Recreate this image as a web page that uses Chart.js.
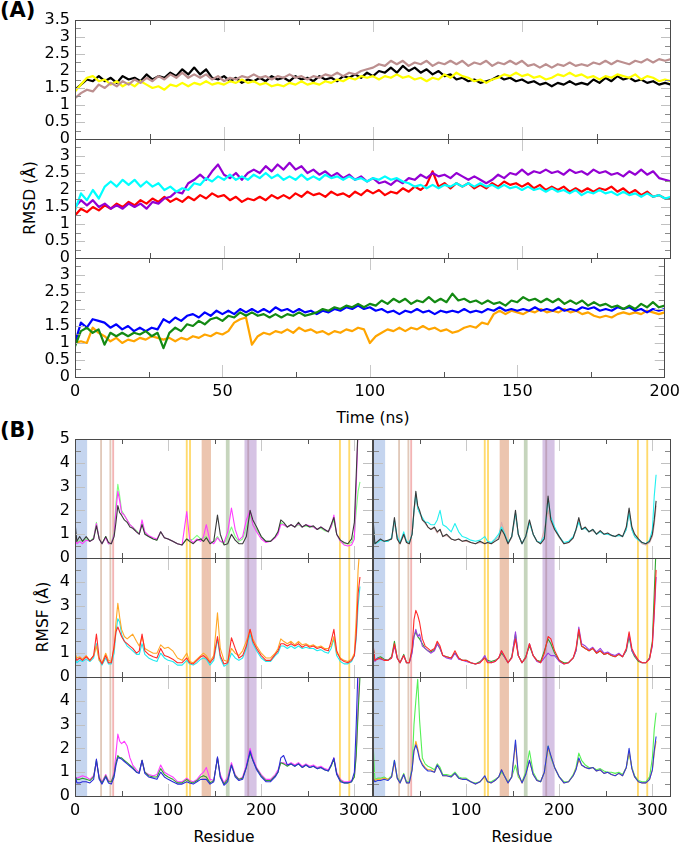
<!DOCTYPE html>
<html><head><meta charset="utf-8">
<script src="https://cdn.jsdelivr.net/npm/chart.js@4.4.1/dist/chart.umd.min.js"></script>
<style>
body{margin:0;background:#fff;}
#wrap{position:relative;width:685px;height:846px;overflow:hidden;font-family:"DejaVu Sans",sans-serif;color:#000;background:#fff;}
canvas{position:absolute;}
.c{position:absolute;white-space:nowrap;font-size:15.5px;transform:translate(-50%,-50%);}
.r{transform:translate(-50%,-50%) rotate(-90deg);}
.p{position:absolute;font-weight:bold;font-size:21px;white-space:nowrap;}
</style></head><body><div id="wrap">
<div class="p" style="left:0;top:-2px">(A)</div>
<div class="p" style="left:0;top:418px">(B)</div>
<div class="c r" style="left:30px;top:198px">RMSD (Å)</div>
<div class="c" style="left:373px;top:418px">Time (ns)</div>
<div class="c r" style="left:43px;top:617px">RMSF (Å)</div>
<div class="c" style="left:224px;top:837px">Residue</div>
<div class="c" style="left:522px;top:837px">Residue</div>
</div>
<script>
// ---------------- Panel A: RMSD (time 0..200 ns, every 2 ns) ----------------
const timeNs = Array.from({length:101}, (_, i) => i * 2);
const rmsdBlack = [1.45,1.6,1.75,1.7,1.85,1.7,1.8,1.65,1.85,1.75, 1.8,1.7,1.9,1.75,1.85,1.8,1.95,1.85,2.05,1.9, 2.1,1.9,2.05,1.8,1.75,1.85,1.7,1.8,1.65,1.75, 1.7,1.8,1.7,1.85,1.75,1.8,1.7,1.85,1.75,1.8, 1.7,1.85,1.75,1.8,1.7,1.85,1.8,1.9,1.8,1.95, 1.85,2.0,1.95,2.1,1.95,2.15,2.0,2.1,1.95,2.05, 1.9,2.0,1.85,1.9,1.75,1.8,1.7,1.75,1.65,1.7, 1.75,1.85,1.75,1.8,1.7,1.75,1.65,1.7,1.6,1.65, 1.55,1.65,1.6,1.7,1.6,1.65,1.6,1.75,1.65,1.8, 1.7,1.85,1.75,1.8,1.7,1.75,1.65,1.7,1.6,1.65, 1.6];
const rmsdYellow = [1.4,1.6,1.8,1.85,1.7,1.75,1.6,1.7,1.55,1.65, 1.55,1.7,1.6,1.5,1.55,1.45,1.6,1.55,1.65,1.55, 1.65,1.6,1.7,1.6,1.65,1.6,1.7,1.65,1.75,1.65, 1.7,1.6,1.65,1.55,1.6,1.55,1.65,1.6,1.7,1.6, 1.65,1.6,1.7,1.65,1.75,1.7,1.8,1.75,1.85,1.8, 1.85,1.75,1.85,1.8,1.9,1.8,1.85,1.75,1.8,1.7, 1.8,1.75,1.9,1.8,1.95,1.85,1.8,1.7,1.75,1.65, 1.75,1.8,1.9,1.85,1.95,1.85,1.9,1.8,1.85,1.75, 1.8,1.9,1.85,1.95,1.85,1.9,1.8,1.85,1.75,1.85, 1.8,1.9,1.85,1.8,1.9,1.75,1.85,1.8,1.7,1.75, 1.7];
const rmsdBrown = [1.2,1.35,1.45,1.4,1.6,1.5,1.65,1.55,1.7,1.6, 1.75,1.65,1.8,1.7,1.85,1.75,1.9,1.8,1.95,1.8, 1.9,1.8,1.9,1.75,1.85,1.7,1.8,1.75,1.85,1.8, 1.9,1.8,1.85,1.75,1.85,1.8,1.9,1.8,1.85,1.75, 1.85,1.8,1.9,1.85,1.95,1.85,1.95,1.9,2.0,2.05, 2.1,2.2,2.15,2.3,2.2,2.3,2.15,2.25,2.2,2.3, 2.15,2.25,2.2,2.3,2.2,2.3,2.15,2.25,2.2,2.3, 2.15,2.25,2.2,2.3,2.2,2.3,2.15,2.2,2.1,2.2, 2.1,2.2,2.15,2.25,2.15,2.2,2.15,2.25,2.2,2.3, 2.2,2.3,2.25,2.2,2.3,2.25,2.35,2.25,2.35,2.3, 2.35];
const rmsdPurple = [1.5,1.7,1.55,1.7,1.5,1.6,1.45,1.55,1.45,1.6, 1.5,1.6,1.45,1.65,1.6,1.75,1.8,1.95,1.9,2.2, 2.3,2.45,2.3,2.55,2.75,2.45,2.35,2.5,2.3,2.5, 2.6,2.5,2.7,2.55,2.75,2.6,2.8,2.6,2.7,2.5, 2.6,2.45,2.55,2.4,2.5,2.35,2.45,2.3,2.4,2.25, 2.35,2.2,2.25,2.15,2.3,2.2,2.35,2.3,2.45,2.35, 2.5,2.4,2.45,2.35,2.5,2.4,2.3,2.4,2.3,2.2, 2.3,2.45,2.35,2.5,2.45,2.6,2.45,2.55,2.5,2.6, 2.5,2.55,2.45,2.6,2.5,2.55,2.45,2.6,2.5,2.55, 2.45,2.5,2.4,2.55,2.45,2.6,2.45,2.55,2.35,2.3, 2.25];
const rmsdCyan = [1.4,1.9,1.7,2.0,1.75,2.1,2.25,2.1,2.3,2.15, 2.3,2.1,2.25,2.1,2.2,2.0,2.1,1.95,2.05,2.0, 2.2,2.15,2.35,2.25,2.4,2.3,2.45,2.3,2.4,2.3, 2.45,2.35,2.5,2.35,2.45,2.3,2.4,2.3,2.45,2.3, 2.4,2.3,2.45,2.35,2.4,2.3,2.4,2.3,2.35,2.25, 2.35,2.3,2.4,2.3,2.35,2.25,2.2,2.1,2.15,2.05, 2.15,2.05,2.15,2.1,2.2,2.1,2.2,2.1,2.2,2.1, 2.15,2.05,2.15,2.05,2.1,2.0,2.1,2.0,2.05,1.95, 2.05,1.95,2.0,1.9,2.0,1.85,1.95,1.9,2.0,1.9, 1.95,1.85,1.95,1.85,1.9,1.8,1.9,1.8,1.85,1.75, 1.8];
const rmsdRed = [1.25,1.45,1.35,1.5,1.4,1.55,1.45,1.6,1.5,1.65, 1.55,1.7,1.6,1.75,1.65,1.8,1.65,1.75,1.65,1.8, 1.7,1.85,1.75,1.9,1.8,1.85,1.7,1.8,1.65,1.75, 1.7,1.8,1.7,1.85,1.75,1.85,1.75,1.9,1.8,1.95, 1.85,1.9,1.8,1.95,1.85,1.9,1.8,1.95,1.85,2.0, 1.9,2.0,1.85,1.95,1.9,2.05,1.95,2.1,2.0,2.15, 2.55,2.1,2.2,2.05,2.2,2.1,2.2,2.05,2.15,2.05, 2.2,2.1,2.25,2.15,2.2,2.1,2.2,2.05,2.15,2.0, 2.1,2.0,2.1,1.95,2.05,1.95,2.05,1.95,2.05,2.0, 2.1,1.95,2.05,1.9,2.0,1.85,1.95,1.8,1.85,1.75, 1.75];
const rmsdBlue = [1.0,1.6,1.45,1.7,1.65,1.6,1.45,1.55,1.4,1.5, 1.35,1.45,1.35,1.45,1.4,1.7,1.6,1.75,1.65,1.8, 1.85,1.75,1.9,1.8,1.95,1.85,1.95,1.85,2.0,1.9, 2.0,1.9,2.0,1.9,2.05,1.95,2.0,1.9,2.0,1.9, 1.95,1.85,1.95,1.9,2.0,1.95,2.05,2.0,2.1,2.0, 2.05,1.95,2.0,1.9,1.95,1.85,1.95,1.9,2.0,1.9, 1.95,1.85,1.95,1.9,1.95,1.9,2.0,1.9,1.95,1.9, 2.0,1.95,2.05,1.95,2.0,1.95,2.0,1.95,2.05,1.95, 2.0,1.95,2.05,1.95,2.0,1.95,2.05,2.0,2.05,1.95, 2.0,1.95,2.05,2.0,2.05,1.95,2.0,1.9,2.0,1.95, 2.0];
const rmsdGreen = [0.9,1.35,1.45,1.3,1.4,0.95,1.3,1.2,1.3,1.2, 1.3,1.25,1.35,1.2,1.3,0.85,1.3,1.45,1.35,1.55, 1.5,1.65,1.55,1.7,1.75,1.65,1.8,1.75,1.9,1.8, 1.9,1.8,1.85,1.75,1.85,1.75,1.85,1.8,1.9,1.8, 1.85,1.9,2.0,1.95,2.05,2.0,2.1,2.05,2.15,2.05, 2.15,2.1,2.25,2.15,2.3,2.2,2.3,2.15,2.25,2.2, 2.35,2.2,2.3,2.2,2.45,2.25,2.3,2.2,2.25,2.15, 2.25,2.15,2.2,2.1,2.25,2.2,2.35,2.25,2.3,2.2, 2.3,2.2,2.3,2.15,2.25,2.15,2.25,2.1,2.2,2.1, 2.15,2.05,2.1,2.0,2.1,2.0,2.15,2.05,2.2,2.05, 2.1];
const rmsdOrange = [1.0,1.05,1.0,1.45,1.3,1.2,1.05,1.15,1.0,1.1, 1.05,1.15,1.1,1.2,1.15,1.1,1.15,1.05,1.15,1.1, 1.2,1.15,1.25,1.2,1.3,1.25,1.35,1.6,1.7,1.75, 0.95,1.2,1.3,1.25,1.35,1.3,1.4,1.3,1.45,1.35, 1.4,1.3,1.35,1.25,1.35,1.3,1.4,1.35,1.45,1.4, 1.0,1.2,1.3,1.4,1.35,1.45,1.35,1.45,1.4,1.5, 1.4,1.45,1.35,1.4,1.3,1.35,1.45,1.5,1.45,1.6, 1.55,1.85,1.95,1.85,1.95,1.9,1.85,1.95,1.9,2.0, 1.9,1.95,1.9,2.0,1.9,1.95,1.85,1.9,1.8,1.75, 1.8,1.75,1.85,1.9,1.85,1.9,1.85,1.95,1.9,1.85, 1.9];

// ---------------- Panel B: RMSF (residue keypoints) ----------------
const residues = [0,2,5,8,12,16,20,23,26,29, 33,36,39,42,44,46,48,50,53,56, 59,62,66,69,72,75,79,84,88,92, 96,100,105,110,115,120,123,127,131,135, 138,141,145,149,153,156,160,164,168,172, 176,180,184,188,191,195,200,205,210,215, 218,221,224,228,232,236,240,244,248,252, 256,260,264,268,272,275,278,281,285,289, 293,297,300,302,304,306];
// row 1 left
const l1Dark = [1.5,0.7,0.9,0.7,0.9,0.7,0.8,1.35,0.8,0.6, 0.9,0.65,0.6,0.9,1.5,2.2,1.9,1.8,1.6,1.5, 1.3,1.25,1.1,1.0,1.4,1.0,0.9,0.8,0.75,1.1, 0.85,0.8,0.7,0.6,0.55,0.8,0.7,0.6,0.75,0.8, 0.7,0.85,0.6,0.7,1.8,1.0,0.55,0.6,1.0,0.75, 0.6,0.6,0.9,2.0,1.6,1.3,0.9,0.7,0.7,0.9, 1.1,1.6,1.5,1.3,1.4,1.3,1.5,1.3,1.4,1.3, 1.35,1.2,1.3,1.2,1.1,1.4,1.7,1.0,0.75,0.65, 0.6,0.8,1.5,3.5,5.5,6];
const l1Magenta = [0.9,0.6,0.7,0.6,0.75,0.7,0.8,1.45,0.8,0.6, 0.85,0.6,0.6,1.0,2.0,2.8,2.4,1.9,1.8,1.6, 1.4,1.3,1.1,1.0,1.6,1.1,0.95,0.85,0.8,1.1, 0.85,0.8,0.7,0.6,0.55,1.95,0.8,0.65,0.8,0.7, 0.9,1.4,0.7,0.6,0.85,0.7,0.65,1.1,2.1,1.2, 0.75,0.9,1.6,2.0,1.4,1.1,0.8,0.65,0.7,0.85, 1.0,1.4,1.4,1.3,1.4,1.3,1.45,1.3,1.4,1.35, 1.3,1.2,1.3,1.2,1.1,1.3,1.8,1.0,0.7,0.55, 0.5,0.55,0.8,3.0,5.5,6];
const l1Green = [0.8,0.65,0.75,0.7,0.8,0.7,0.85,1.5,0.8,0.6, 0.9,0.6,0.6,1.1,2.3,3.1,2.6,2.0,1.8,1.6, 1.4,1.3,1.15,1.0,1.5,1.05,0.9,0.8,0.75,1.1, 0.85,0.8,0.7,0.6,0.55,0.8,0.75,0.8,0.95,0.8, 0.85,0.9,0.65,0.7,0.9,0.7,0.6,0.9,1.3,0.9, 0.7,0.8,1.3,1.8,1.4,1.2,0.9,0.7,0.7,0.9, 1.1,1.5,1.4,1.3,1.4,1.3,1.4,1.3,1.35,1.3, 1.3,1.2,1.25,1.15,1.1,1.3,1.6,1.0,0.7,0.6, 0.6,0.65,1.0,2.0,2.8,3.2];
// row 1 right
const r1Dark = [1.7,0.6,0.7,0.8,0.7,0.75,0.8,1.7,0.8,0.6, 1.0,0.65,0.6,1.0,2.0,2.8,2.2,2.0,1.6,1.5, 1.3,1.2,1.3,1.1,1.2,0.9,1.0,0.8,0.75,0.8, 0.7,0.75,0.65,0.6,0.7,0.6,0.65,0.6,0.7,0.8, 1.2,1.0,0.6,0.9,2.0,1.0,0.6,0.9,1.6,1.0, 0.7,0.6,0.8,2.6,1.6,1.2,0.9,0.6,0.65,0.85, 1.2,1.7,1.2,1.3,1.1,1.2,1.0,1.15,1.0,1.05, 0.95,0.9,1.0,0.9,1.3,2.1,1.3,1.0,0.8,0.65, 0.6,0.7,1.0,1.6,2.4,null];
const r1Cyan = [1.4,0.6,0.65,0.75,0.7,0.7,0.85,1.6,0.9,0.65, 1.1,0.7,0.65,1.0,2.0,2.7,2.1,1.9,1.7,1.5, 1.5,1.4,1.4,1.6,2.0,1.4,1.3,1.1,1.45,1.1, 0.9,0.85,0.75,0.7,0.75,0.9,0.7,0.65,0.8,1.0, 1.3,1.05,0.65,0.9,1.9,1.0,0.6,0.9,1.5,1.0, 0.7,0.65,0.9,2.5,1.7,1.3,0.9,0.65,0.7,0.9, 1.2,1.5,1.2,1.25,1.1,1.2,1.0,1.1,1.0,1.0, 0.95,0.9,0.95,0.9,1.2,1.9,1.2,0.9,0.75,0.65, 0.6,0.75,1.2,2.6,3.5,null];
const r1Rosy = [1.3,0.6,0.7,0.75,0.7,0.7,0.8,1.5,0.8,0.6, 0.95,0.65,0.6,1.0,1.9,2.6,2.1,1.9,1.6,1.45, 1.3,1.2,1.25,1.05,1.2,0.9,0.95,0.8,0.75,0.8, 0.7,0.7,0.65,0.6,0.65,0.6,0.65,0.6,0.75,0.9, 1.5,1.1,0.6,0.85,1.8,1.0,0.6,0.85,1.5,1.0, 0.7,0.6,1.2,2.0,1.5,1.2,0.85,0.6,0.65,0.85, 1.15,1.6,1.2,1.25,1.1,1.15,1.0,1.1,1.0,1.0, 0.95,0.9,0.95,0.9,1.2,1.9,1.2,0.9,0.75,0.6, 0.55,0.65,0.9,1.4,2.2,null];
// row 2 left
const l2Orange = [1.0,0.8,0.85,0.75,0.9,0.7,0.9,1.3,0.7,0.6, 1.0,0.7,0.65,1.2,2.3,3.1,2.5,2.0,1.7,1.6, 1.7,1.8,1.5,1.3,1.7,1.2,1.1,1.0,1.0,1.35, 1.2,1.25,1.1,0.8,0.7,1.0,0.65,0.6,0.75,0.9, 1.0,0.9,0.65,0.9,2.7,1.2,0.7,0.65,1.2,1.0, 0.9,1.1,1.5,2.0,1.6,1.3,1.0,0.8,0.8,1.0, 1.2,1.6,1.5,1.4,1.5,1.35,1.5,1.35,1.4,1.3, 1.35,1.25,1.3,1.2,1.2,1.3,1.7,1.0,0.8,0.7, 0.65,0.75,1.0,2.5,4.5,5.5];
const l2Red = [0.9,0.7,0.8,0.7,0.85,0.7,0.9,1.8,0.8,0.55, 0.9,0.6,0.6,1.3,1.9,2.1,1.9,1.7,1.5,1.4, 1.3,1.2,1.0,1.1,1.8,1.1,0.95,0.85,0.8,1.2, 0.9,0.85,0.75,0.6,0.6,0.8,0.6,0.55,0.7,0.85, 0.9,0.8,0.6,0.8,1.7,0.9,0.55,0.6,1.65,1.2, 0.8,0.9,1.3,2.0,1.5,1.2,0.9,0.7,0.7,0.95, 1.1,1.4,1.4,1.3,1.4,1.3,1.4,1.25,1.35,1.25, 1.3,1.2,1.25,1.15,1.1,1.5,2.0,1.1,0.75,0.65, 0.6,0.7,0.9,1.8,3.5,4.2];
const l2Cyan = [0.8,0.6,0.7,0.65,0.75,0.65,0.8,1.4,0.7,0.5, 0.8,0.55,0.55,1.0,1.9,2.45,2.3,1.8,1.5,1.3, 1.2,1.1,0.95,0.95,1.4,0.95,0.8,0.7,0.65,1.0, 0.8,0.7,0.65,0.5,0.5,0.7,0.55,0.5,0.6,0.75, 0.8,0.75,0.5,0.7,1.6,0.8,0.45,0.55,1.0,0.8, 0.7,0.8,1.2,1.8,1.4,1.1,0.8,0.65,0.65,0.9, 1.0,1.3,1.3,1.2,1.3,1.2,1.3,1.2,1.25,1.2, 1.2,1.1,1.15,1.05,1.0,1.2,1.6,0.9,0.65,0.55, 0.55,0.65,0.9,1.6,3.0,3.8];
// row 2 right
const r2Red = [1.4,0.7,0.75,0.8,0.7,0.7,0.8,1.4,0.8,0.6, 0.9,0.6,0.6,1.2,2.4,2.8,2.6,2.3,1.6,1.3, 1.2,1.1,1.2,1.5,1.3,0.9,0.85,0.8,1.1,0.8, 0.7,0.7,0.6,0.55,0.6,0.8,0.6,0.6,0.65,0.8, 1.1,0.9,0.6,0.8,1.6,0.9,0.6,0.8,1.4,0.9, 0.7,0.6,1.0,1.7,1.6,1.1,0.7,0.55,0.6,0.8, 1.2,2.0,1.3,1.2,1.1,1.2,1.0,1.1,0.95,1.0, 0.9,0.85,0.95,0.85,1.2,1.9,1.2,0.95,0.7,0.6, 0.6,0.75,1.4,2.8,4.5,null];
const r2Purple = [1.2,0.65,0.8,0.75,0.7,0.7,0.8,1.3,0.8,0.6, 0.9,0.6,0.6,1.0,1.7,2.0,1.7,1.8,1.3,1.2, 1.1,1.0,1.1,1.4,1.2,0.9,0.8,0.75,1.0,0.75, 0.7,0.65,0.6,0.55,0.6,0.9,0.65,0.6,0.65,0.8, 1.1,0.85,0.6,0.8,1.9,0.9,0.6,0.8,1.4,0.9, 0.65,0.6,0.8,1.0,0.9,0.9,0.65,0.55,0.6,0.8, 1.1,2.1,1.4,1.3,1.15,1.25,1.05,1.2,1.0,1.05, 0.95,0.9,1.0,0.85,1.15,1.8,1.1,0.9,0.7,0.6, 0.6,0.8,1.3,2.6,4.2,null];
const r2Green = [1.3,0.7,0.8,0.85,0.75,0.7,0.85,1.5,0.8,0.6, 0.95,0.6,0.6,1.1,1.7,1.9,1.7,1.6,1.4,1.2, 1.1,1.05,1.15,1.4,1.2,0.9,0.85,0.8,1.0,0.8, 0.7,0.7,0.6,0.55,0.65,0.8,0.7,0.65,0.7,0.8, 1.0,0.85,0.6,0.85,1.8,0.9,0.6,0.85,1.3,0.9, 0.7,0.65,1.1,1.6,1.4,1.0,0.7,0.6,0.6,0.8, 1.1,1.9,1.3,1.2,1.1,1.2,1.0,1.1,0.95,1.0, 0.9,0.85,0.95,0.85,1.1,1.7,1.1,0.85,0.65,0.6, 0.6,0.8,1.5,3.5,5.5,null];
// row 3 left
const l3Magenta = [0.8,0.75,0.8,0.85,0.8,0.7,0.85,1.4,0.8,0.6, 0.9,0.65,0.6,1.0,1.8,2.6,2.3,2.2,2.3,2.1, 1.6,1.3,1.1,1.0,1.5,1.0,0.9,0.85,0.9,1.3, 1.0,0.9,0.8,0.6,0.6,0.75,0.65,0.6,0.7,0.9, 1.0,1.2,0.7,0.65,1.6,0.9,0.55,0.8,1.4,0.9, 0.7,0.8,1.3,2.0,1.6,1.2,0.9,0.7,0.7,0.9, 1.1,1.4,1.4,1.3,1.4,1.3,1.4,1.25,1.35,1.25, 1.3,1.2,1.25,1.15,1.1,1.3,1.6,1.0,0.7,0.6, 0.6,0.65,0.8,1.8,3.8,5.5];
const l3Green = [0.8,0.7,0.7,0.75,0.7,0.65,0.8,1.5,0.75,0.55, 0.85,0.6,0.6,0.9,1.4,1.7,1.6,1.6,1.5,1.4, 1.3,1.2,1.0,1.0,1.5,1.0,0.85,0.8,0.8,1.15, 0.9,0.8,0.7,0.55,0.55,0.7,0.6,0.55,0.65,0.8, 0.85,0.8,0.55,0.65,1.6,0.8,0.5,0.7,1.3,0.85, 0.7,0.75,1.2,1.8,1.5,1.15,0.85,0.65,0.65,0.85, 1.0,1.4,1.35,1.25,1.35,1.25,1.35,1.2,1.3,1.2, 1.25,1.15,1.2,1.1,1.05,1.25,1.55,0.95,0.65,0.55, 0.55,0.6,0.8,1.7,3.5,5.0];
const l3Blue = [0.9,0.55,0.55,0.6,0.6,0.55,0.7,1.55,0.7,0.5, 0.8,0.55,0.5,0.8,1.3,1.6,1.6,1.55,1.45,1.35, 1.25,1.15,1.0,0.95,1.5,0.95,0.8,0.75,0.7,1.0, 0.8,0.7,0.6,0.5,0.5,0.6,0.55,0.5,0.6,0.7, 0.7,0.7,0.5,0.6,1.65,0.8,0.45,0.6,1.3,0.8, 0.65,0.7,1.2,1.9,1.5,1.1,0.8,0.6,0.6,0.8, 1.0,1.6,1.7,1.3,1.35,1.25,1.35,1.2,1.3,1.2, 1.25,1.15,1.2,1.1,1.05,1.3,1.6,0.9,0.6,0.55, 0.55,0.6,1.0,3.0,5.5,6];
// row 3 right
const r3Lime = [2.3,0.7,0.75,0.75,0.8,0.7,0.85,1.5,0.8,0.6, 0.95,0.6,0.6,1.2,3.0,4.0,4.9,3.2,1.6,1.35, 1.25,1.2,1.1,1.35,1.2,0.9,0.9,0.85,1.0,0.8, 0.75,0.75,0.6,0.55,0.6,0.8,0.6,0.6,0.7,0.8, 1.0,0.85,0.6,0.8,1.3,0.8,0.6,1.0,1.9,1.0, 0.7,0.6,1.0,2.1,1.6,1.2,0.8,0.6,0.6,0.9, 1.2,1.8,1.5,1.3,1.2,1.2,1.1,1.15,1.05,1.0, 1.0,0.95,1.0,0.9,1.2,1.8,1.2,0.85,0.65,0.6, 0.6,0.8,1.6,2.8,3.5,null];
const r3Orange = [0.8,0.65,0.7,0.7,0.75,0.7,0.8,1.4,0.75,0.55, 0.9,0.55,0.55,1.1,1.9,2.3,2.0,1.6,1.35,1.2, 1.1,1.1,1.0,1.3,1.1,0.85,0.85,0.8,0.95,0.75, 0.7,0.7,0.6,0.5,0.6,0.8,0.6,0.55,0.65,0.8, 1.1,0.85,0.55,0.8,2.2,0.9,0.55,0.9,1.5,0.9, 0.65,0.6,1.0,2.0,1.7,1.2,0.8,0.55,0.6,0.85, 1.15,1.5,1.3,1.2,1.15,1.2,1.05,1.1,0.95,1.0, 0.9,0.85,0.95,0.85,1.2,1.9,1.15,0.8,0.6,0.55, 0.55,0.7,1.1,1.8,2.3,null];
const r3Blue = [0.75,0.6,0.65,0.65,0.7,0.65,0.8,1.5,0.75,0.55, 0.9,0.55,0.55,1.1,1.9,2.15,1.9,1.55,1.3,1.15, 1.05,1.05,1.0,1.3,1.1,0.85,0.85,0.8,0.95,0.75, 0.7,0.7,0.6,0.5,0.6,0.85,0.6,0.55,0.65,0.8, 1.1,0.85,0.55,0.8,2.35,0.95,0.55,0.9,1.5,0.9, 0.65,0.6,1.0,2.1,1.7,1.2,0.8,0.55,0.6,0.85, 1.1,1.6,1.3,1.2,1.15,1.2,1.05,1.1,0.95,1.0, 0.9,0.85,0.95,0.85,1.2,2.0,1.15,0.8,0.6,0.55, 0.55,0.7,1.1,1.9,2.5,null];

// highlighted residue ranges (shaded bands)
const bandStart = [0, 27, 37, 40, 119, 122.5, 136, 162, 182, 185, 283.5, 293.5];
const bandEnd   = [13, 29, 39, 42, 121, 124.5, 146, 166, 195, 187, 285.5, 295.5];
const bandColor = ['rgba(150,178,225,0.55)','rgba(205,165,140,0.6)','rgba(205,165,140,0.6)','rgba(235,130,130,0.6)',
  'rgba(255,205,60,0.75)','rgba(255,205,60,0.75)','rgba(220,150,110,0.55)','rgba(160,185,145,0.6)',
  'rgba(180,145,205,0.55)','rgba(170,130,150,0.5)','rgba(255,205,60,0.75)','rgba(255,205,60,0.75)'];

// ---------------- drawing helpers ----------------
const FONT = {family: '"DejaVu Sans", sans-serif', size: 16};
const wrap = document.getElementById('wrap');

const frameTicks = {
  id: 'frameTicks',
  beforeDatasetsDraw(chart, args, o) {
    if (!o.bands) return;
    const {ctx, chartArea: a} = chart; const x = chart.scales.x;
    ctx.save();
    ctx.beginPath(); ctx.rect(a.left, a.top, a.width, a.height); ctx.clip();
    for (let i = 0; i < bandStart.length; i++) {
      const x0 = x.getPixelForValue(bandStart[i]), x1 = x.getPixelForValue(bandEnd[i]);
      ctx.fillStyle = bandColor[i];
      ctx.fillRect(x0, a.top, x1 - x0, a.height);
    }
    ctx.restore();
  },
  afterDraw(chart, args, o) {
    const {ctx, chartArea: a} = chart; const x = chart.scales.x, y = chart.scales.y;
    ctx.save(); ctx.lineWidth = 1;
    const seg = (x1, y1, x2, y2, c) => { ctx.strokeStyle = c; ctx.beginPath(); ctx.moveTo(x1, y1); ctx.lineTo(x2, y2); ctx.stroke(); };
    const isMul = (v, m) => Math.abs(v / m - Math.round(v / m)) < 1e-6;
    for (let v = x.min + o.xMinor; v < x.max - 1e-6; v += o.xMinor) {
      const px = Math.round(x.getPixelForValue(v)) + 0.5;
      const major = isMul(v, o.xMajor);
      const len = major ? 12 : 5, col = major ? '#c8c8c8' : '#555';
      seg(px, a.top, px, a.top + len, col);
      seg(px, a.bottom, px, a.bottom - len, col);
    }
    for (let v = o.yMinor; v < y.max - 1e-6; v += o.yMinor) {
      const py = Math.round(y.getPixelForValue(v)) + 0.5;
      const major = isMul(v, o.yMajor);
      const len = major ? 10 : 6, col = major ? '#c0c0c0' : '#8a8a8a';
      seg(a.left, py, a.left + len, py, col);
      seg(a.right, py, a.right - len, py, col);
    }
    ctx.strokeStyle = '#4a4a4a';
    ctx.strokeRect(Math.round(a.left) + 0.5, Math.round(a.top) + 0.5, Math.round(a.width) - 1, Math.round(a.height));
    ctx.restore();
  }
};

function makeChart(cfg) {
  const c = document.createElement('canvas');
  c.width = cfg.w; c.height = cfg.h;
  c.style.left = cfg.left + 'px'; c.style.top = cfg.top + 'px';
  c.style.width = cfg.w + 'px'; c.style.height = cfg.h + 'px';
  wrap.appendChild(c);
  return new Chart(c, {
    type: 'line',
    data: {datasets: cfg.datasets},
    options: {
      responsive: false, animation: false, devicePixelRatio: 1,
      layout: {padding: cfg.pad},
      elements: {point: {radius: 0}, line: {borderWidth: 1, tension: 0, borderJoinStyle: 'round'}},
      plugins: {legend: {display: false}, tooltip: {enabled: false},
        frameTicks: {bands: cfg.bands, xMinor: cfg.xMinor, xMajor: cfg.xMajor, yMinor: cfg.yMinor, yMajor: cfg.yMajor}},
      scales: {
        x: {type: 'linear', min: 0, max: cfg.xMax, display: cfg.showX,
            grid: {display: false, drawTicks: false}, border: {display: false},
            ticks: {stepSize: cfg.xMajor, autoSkip: false, includeBounds: false, maxRotation: 0, padding: 5, color: '#000', font: FONT,
                    callback: v => String(v)},
            afterFit: s => { s.height = cfg.showX ? 30 : 0; }},
        y: {type: 'linear', min: 0, max: cfg.yMax, display: cfg.showY,
            grid: {display: false, drawTicks: false}, border: {display: false},
            ticks: {stepSize: cfg.yStep, autoSkip: false, includeBounds: false, padding: 5, color: '#000', font: FONT,
                    callback: v => (cfg.hideTop && Math.abs(v - cfg.yMax) < 1e-9) ? '' : String(v)},
            afterFit: s => { s.width = cfg.showY ? 75 : 0; }}
      }
    },
    plugins: [frameTicks]
  });
}

const ts = arr => arr.map((v, i) => ({x: timeNs[i], y: v}));
const rs = arr => arr.map((v, i) => ({x: residues[i], y: v}));
const ds = (data, color, w) => ({data, borderColor: color, borderWidth: w || 1.1, fill: false, spanGaps: false});

// Panel A
const A = {left: 0, w: 685, xMax: 200, yMax: 3.5, yStep: 0.5, xMinor: 25, xMajor: 50, yMinor: 0.25, yMajor: 0.5, showY: true};
const LW = 2.2;
makeChart({...A, top: 0, h: 160, pad: {left: 0, right: 14, top: 20, bottom: 21}, showX: false, hideTop: false,
  datasets: [ds(ts(rmsdBrown), '#bc8f8f', LW), ds(ts(rmsdYellow), '#ffff00', LW), ds(ts(rmsdBlack), '#000000', LW)]});
makeChart({...A, top: 120, h: 160, pad: {left: 0, right: 14, top: 19, bottom: 22}, showX: false, hideTop: true,
  datasets: [ds(ts(rmsdCyan), '#00ffff', LW), ds(ts(rmsdPurple), '#9400d3', LW), ds(ts(rmsdRed), '#ff0000', LW)]});
makeChart({...A, top: 240, h: 200, pad: {left: 0, right: 14, top: 18, bottom: 33}, showX: true, hideTop: true,
  datasets: [ds(ts(rmsdGreen), '#138a13', LW), ds(ts(rmsdBlue), '#0000ff', LW), ds(ts(rmsdOrange), '#ffa500', LW)]});

// Panel B
const B = {xMax: 320, yMax: 5, yStep: 1, xMinor: 50, xMajor: 100, yMinor: 0.5, yMajor: 1, bands: true};
const BL = {...B, left: 0, w: 390, showY: true};
const BR = {...B, left: 360, w: 325, showY: false};
const rows = [
  {top: 420, h: 160, padT: 19, padB: 22, showX: false, hideTop: false},
  {top: 540, h: 160, padT: 18, padB: 23, showX: false, hideTop: true},
  {top: 660, h: 186, padT: 17, padB: 20, showX: true, hideTop: true}
];
const leftSets = [
  [ds(rs(l1Dark), '#3a3a3a'), ds(rs(l1Magenta), '#ff3cff'), ds(rs(l1Green), '#7dff7d')],
  [ds(rs(l2Red), '#ff2a2a'), ds(rs(l2Orange), '#ffa726'), ds(rs(l2Cyan), '#22e8f0')],
  [ds(rs(l3Blue), '#2b2bd8'), ds(rs(l3Green), '#2e9e2e'), ds(rs(l3Magenta), '#ff3cff')]
];
const rightSets = [
  [ds(rs(r1Dark), '#3a3a3a'), ds(rs(r1Cyan), '#22f0f0'), ds(rs(r1Rosy), '#d9a9a9')],
  [ds(rs(r2Red), '#ff2a2a'), ds(rs(r2Purple), '#9b3fe0'), ds(rs(r2Green), '#2ea52e')],
  [ds(rs(r3Blue), '#2b3bdc'), ds(rs(r3Orange), '#ffa726'), ds(rs(r3Lime), '#55f055')]
];
rows.forEach((r, i) => {
  makeChart({...BL, top: r.top, h: r.h, pad: {left: 0, right: 17, top: r.padT, bottom: r.padB}, showX: r.showX, hideTop: r.hideTop, datasets: leftSets[i]});
  makeChart({...BR, top: r.top, h: r.h, pad: {left: 13, right: 14, top: r.padT, bottom: r.padB}, showX: r.showX, hideTop: r.hideTop, datasets: rightSets[i]});
});
</script>
</body></html>
